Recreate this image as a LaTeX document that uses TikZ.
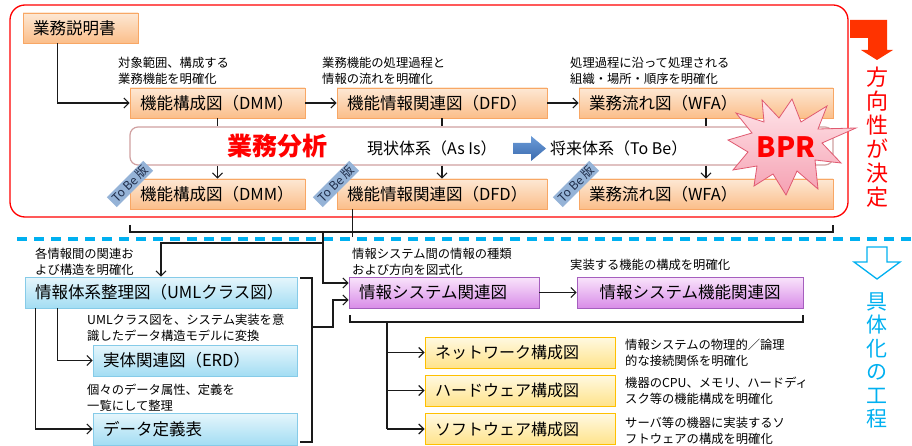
\documentclass[tikz,border=0pt]{standalone}
\usepackage{fontspec}
\setmainfont{Noto Sans CJK JP}
\usetikzlibrary{arrows.meta,calc,shapes.geometric}
\definecolor{frameRed}{HTML}{FF0000}
\definecolor{arrowRed}{HTML}{FF3300}
\definecolor{orTop}{HTML}{FDE8D4}
\definecolor{orBot}{HTML}{FBBE8A}
\definecolor{orBorder}{HTML}{F8A765}
\definecolor{cyTop}{HTML}{E6F6FC}
\definecolor{cyBot}{HTML}{A3DDF3}
\definecolor{cyBorder}{HTML}{86CBE8}
\definecolor{puTop}{HTML}{F9E4FB}
\definecolor{puBot}{HTML}{D98DE8}
\definecolor{puBorder}{HTML}{A55FBE}
\definecolor{yeTop}{HTML}{FFF9E2}
\definecolor{yeBot}{HTML}{FFE38A}
\definecolor{yeBorder}{HTML}{FFC000}
\definecolor{bandBorder}{HTML}{D0A0A0}
\definecolor{tobeFill}{HTML}{95B3D7}
\definecolor{tobeText}{HTML}{1F2D4A}
\definecolor{starTop}{HTML}{FFE6EA}
\definecolor{starBot}{HTML}{F5A0B2}
\definecolor{starBorder}{HTML}{E05A70}
\definecolor{cyanLine}{HTML}{00B0F0}
\definecolor{arrTop}{HTML}{6C9CD8}
\definecolor{arrBot}{HTML}{3A6AAE}
\definecolor{lineCol}{HTML}{1A1A1A}
\begin{document}
\begin{tikzpicture}[x=1pt,y=-1pt,
  box/.style={draw, line width=0.8pt, inner sep=0pt, minimum height=30pt,
    font=\fontsize{16.5}{18}\selectfont},
  obox/.style={box, draw=orBorder, top color=orTop, bottom color=orBot},
  cbox/.style={box, draw=cyBorder, top color=cyTop, bottom color=cyBot},
  pbox/.style={box, draw=puBorder, top color=puTop, bottom color=puBot},
  ybox/.style={box, draw=yeBorder, line width=1pt, top color=yeTop, bottom color=yeBot,
    font=\fontsize{16}{18}\selectfont},
  lbox/.style={align=left, inner xsep=10pt},
  note/.style={anchor=north west, align=left, inner sep=0pt,
    font=\fontsize{12.3}{15.5}\selectfont},
  conn/.style={draw=lineCol, line width=1.1pt},
  arr/.style={conn, -{Straight Barb[length=5pt,width=10pt]}},
  tobe/.style={rotate=45, fill=tobeFill, text=tobeText, inner xsep=3pt, inner ysep=1.5pt,
    font=\fontsize{12}{12}\selectfont},
  vtext/.style={align=center, inner sep=0pt}
]
\useasboundingbox (0,0) rectangle (912,446);

% red frame
\draw[frameRed, line width=1.3pt, rounded corners=15pt] (10,5) rectangle (848,217);

% blue dashed separator
\draw[cyanLine, line width=3.2pt, dash pattern=on 10pt off 7pt] (17,239) -- (912,239);

% top area boxes
\node[obox, lbox, text width=95pt] (kbs) at (80.5,28) {業務説明書};
\node[obox, lbox, text width=155pt] (dmm1) at (217.5,103) {機能構成図（DMM）};
\node[obox, lbox, text width=190pt] (dfd1) at (442,103) {機能情報関連図（DFD）};
\node[obox, lbox, text width=234pt] (wfa1) at (706,103) {業務流れ図（WFA）};

\node[draw=bandBorder, line width=1.2pt, fill=white, rounded corners=8pt,
  minimum width=703pt, minimum height=38pt, inner sep=0pt] (band) at (481.5,146) {};

\node[obox, lbox, text width=155pt] (dmm2) at (217.5,194) {機能構成図（DMM）};
\node[obox, lbox, text width=190pt] (dfd2) at (442,194) {機能情報関連図（DFD）};
\node[obox, lbox, text width=234pt] (wfa2) at (706,194) {業務流れ図（WFA）};

% annotations top
\node[note] (a1) at (118,57) {対象範囲、構成する\\業務機能を明確化};
\node[note] (a2) at (322,57) {業務機能の処理過程と\\情報の流れを明確化};
\node[note] (a3) at (570,57) {処理過程に沿って処理される\\組織・場所・順序を明確化};

% band content
\node[text=frameRed, font=\fontsize{25}{25}\selectfont\bfseries] (gyomu) at (277.5,146) {業務分析};
\node[anchor=west, inner sep=0pt, font=\fontsize{16}{18}\selectfont] (asis) at (367,148) {現状体系（As Is）};
\shade[top color=arrTop, bottom color=arrBot] (513,143) -- (531,143) -- (531,136) -- (546,148.5)
  -- (531,161) -- (531,154) -- (513,154) -- cycle;
\node[anchor=west, inner sep=0pt, font=\fontsize{16}{18}\selectfont] (tobe) at (550,148) {将来体系（To Be）};

% connectors top
\draw[arr] ($(kbs.south west)+(35,0)$) |- (dmm1.west);
\draw[arr] (dmm1.east) -- (dfd1.west);
\draw[arr] (dfd1.east) -- (wfa1.west);
\draw[conn] (dmm1.south) -- (dmm1.south |- band.north);
\draw[conn] (dfd1.south) -- (dfd1.south |- band.north);
\draw[conn] (wfa1.south) -- (wfa1.south |- band.north);
\draw[arr] (dmm2.north |- band.south) -- (dmm2.north);
\draw[arr] (dfd2.north |- band.south) -- (dfd2.north);
\draw[arr] (wfa2.north |- band.south) -- (wfa2.north);

% To Be labels
\node[tobe] (tb1) at (130,184) {To Be 版};
\node[tobe] (tb2) at (336,184) {To Be 版};
\node[tobe] (tb3) at (576,184) {To Be 版};

% BPR star
\draw[starBorder, line width=0.8pt, top color=starTop, bottom color=starBot]
  (792,99) -- (801,122) -- (827,106) -- (818,129) -- (856,128) -- (822,143)
  -- (841,163) -- (815,160) -- (818,189) -- (797,171) -- (786,195) -- (773,174)
  -- (754,186) -- (757,166) -- (733,170) -- (748,152) -- (728,140) -- (752,133)
  -- (736,113) -- (764,122) -- (762,100) -- (779,118) -- cycle;
\node[text=frameRed, font=\fontsize{28}{28}\selectfont\bfseries] (bpr) at (786,147) {BPR};

% direction arrow and text (red)
\fill[arrowRed] (850,20) -- (887,20) -- (887,50) -- (893,50) -- (877,60) -- (861,50)
  -- (868,50) -- (868,38) -- (850,38) -- cycle;
\node[vtext, text=frameRed, font=\fontsize{22}{24}\selectfont] (houkou) at (877,137)
  {方\\向\\性\\が\\決\\定};

% bracket under top row
\draw[conn] (130,225) -- (130,232) -- (833,232) -- (833,225);
\draw[conn] ($(dfd2.south west)+(16,0)$) -- ++(0,28);
\coordinate (s1) at (323,232);
\coordinate (j1) at (323,243);

% lower area
\node[note] (a4) at (35,248) {各情報間の関連お\\よび構造を明確化};
\node[note] (a5) at (352,248) {情報システム間の情報の種類\\および方向を図式化};
\node[note] (a6) at (570,259) {実装する機能の構成を明確化};

\node[cbox, lbox, text width=252pt, minimum height=31pt] (uml) at (161,292.5) {情報体系整理図（UMLクラス図）};
\node[pbox, lbox, text width=170pt, minimum height=31pt] (isr) at (444,292.5) {情報システム関連図};
\node[pbox, minimum width=226pt, minimum height=31pt] (isf) at (690,292.5) {情報システム機能関連図};

\coordinate (ia) at ($(isr.west)+(0,-9.5)$);
\coordinate (ib) at ($(isr.west)+(0,7.5)$);
\draw[arr] (s1) |- (ia);
\draw[arr] (j1) -| (uml.north);
\draw[arr] (isr.east) -- (isf.west);

% UML right bracket
\draw[conn] (300,278) -- (312,278) -- (312,442) -- (300,442);
\coordinate (ub) at (312,327);
\draw[arr] (ub) -- (333,327) |- (ib);

\node[note] (a7) at (87,314) {UMLクラス図を、システム実装を意\\識したデータ構造モデルに変換};
\node[cbox, lbox, text width=184pt, minimum height=31pt] (erd) at (195,360.5) {実体関連図（ERD）};
\node[note] (a8) at (87,384) {個々のデータ属性、定義を\\一覧にして整理};
\node[cbox, lbox, text width=184pt, minimum height=32pt] (dtab) at (195,429) {データ定義表};

\draw[arr] ($(uml.south west)+(11,0)$) |- (dtab.west);
\draw[arr] ($(uml.south west)+(33,0)$) |- (erd.west);

% purple bracket
\draw[conn] (350,315) -- (350,322) -- (803,322) -- (803,315);
\draw[conn] (387,322) -- (387,429);

\node[ybox, lbox, text width=170pt, minimum height=31pt] (nw) at (520,352.5) {ネットワーク構成図};
\node[ybox, lbox, text width=170pt, minimum height=31pt] (hw) at (520,390.5) {ハードウェア構成図};
\node[ybox, lbox, text width=170pt, minimum height=31pt] (sw) at (520,429) {ソフトウェア構成図};
\draw[arr] (387,352.5) -- (nw.west);
\draw[arr] (387,390.5) -- (hw.west);
\draw[arr] (387,429) -- (sw.west);

\node[note] (a9) at (625,339) {情報システムの物理的／論理\\的な接続関係を明確化};
\node[note] (a10) at (625,377) {機器のCPU、メモリ、ハードディ\\スク等の機能構成を明確化};
\node[note] (a11) at (625,417) {サーバ等の機器に実装するソ\\フトウェアの構成を明確化};

% concretisation arrow and text (cyan)
\draw[cyanLine, line width=1.3pt, line join=miter] (867,247) -- (887,247) -- (887,262) -- (900,262)
  -- (877,279) -- (854,262) -- (867,262) -- cycle;
\node[vtext, text=cyanLine, font=\fontsize{21}{23.4}\selectfont] (gutai) at (877,360.5)
  {具\\体\\化\\の\\工\\程};
\end{tikzpicture}
\end{document}
